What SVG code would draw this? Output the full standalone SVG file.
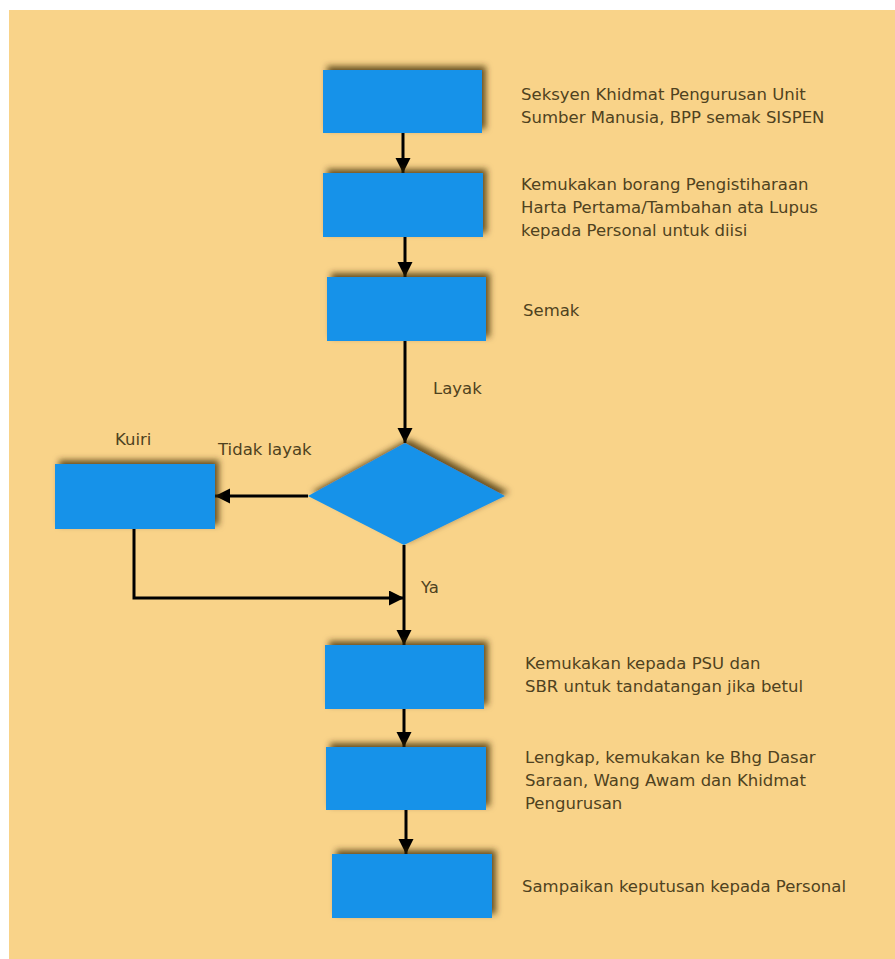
<svg xmlns="http://www.w3.org/2000/svg" width="895" height="959" viewBox="0 0 895 959">
<defs>
<style>
.box{fill:#1592E9;filter:url(#sh)}
.lbl{font-family:"DejaVu Sans","Liberation Sans",sans-serif;font-size:16.5px;fill:#4f4220}
.cn{stroke:#000;stroke-width:3;fill:none}
</style>
<filter id="sh" x="-20%" y="-30%" width="140%" height="160%">
<feDropShadow dx="4" dy="-4" stdDeviation="3" flood-color="#3b2a00" flood-opacity="0.75"/>
</filter>
<marker id="ah" markerUnits="userSpaceOnUse" markerWidth="18" markerHeight="18" refX="15" refY="7.5" orient="auto">
<path d="M0,0 L15,7.5 L0,15 Z" fill="#000"/>
</marker>
</defs>
<rect x="0" y="0" width="895" height="959" fill="#fff"/>
<rect x="9" y="10" width="886" height="949" fill="#F9D389"/>
<g id="connectors">
<path class="cn" d="M403,133 V173" marker-end="url(#ah)"/>
<path class="cn" d="M405,237 V277" marker-end="url(#ah)"/>
<path class="cn" d="M405,341 V443" marker-end="url(#ah)"/>
<path class="cn" d="M308,496 H215" marker-end="url(#ah)"/>
<path class="cn" d="M134,529 V598 H404" marker-end="url(#ah)"/>
<path class="cn" d="M404,545 V645" marker-end="url(#ah)"/>
<path class="cn" d="M404,709 V747" marker-end="url(#ah)"/>
<path class="cn" d="M406,810 V854" marker-end="url(#ah)"/>
</g>
<g id="n1"><rect class="box" x="323" y="70" width="159" height="63"/>
<text class="lbl" x="521" y="100">Seksyen Khidmat Pengurusan Unit</text>
<text class="lbl" x="521" y="123">Sumber Manusia, BPP semak SISPEN</text></g>
<g id="n2"><rect class="box" x="323" y="173" width="160" height="64"/>
<text class="lbl" x="521" y="190">Kemukakan borang Pengistiharaan</text>
<text class="lbl" x="521" y="213">Harta Pertama/Tambahan ata Lupus</text>
<text class="lbl" x="521" y="236">kepada Personal untuk diisi</text></g>
<g id="n3"><rect class="box" x="327" y="277" width="159" height="64"/>
<text class="lbl" x="523" y="316">Semak</text></g>
<g id="d1"><path class="box" d="M405,443 L505,496 L404,545 L308,496 Z"/></g>
<g id="n4"><rect class="box" x="55" y="464" width="160" height="65"/>
<text class="lbl" x="115" y="445">Kuiri</text></g>
<g id="n5"><rect class="box" x="325" y="645" width="159" height="64"/>
<text class="lbl" x="525" y="669">Kemukakan kepada PSU dan</text>
<text class="lbl" x="525" y="692">SBR untuk tandatangan jika betul</text></g>
<g id="n6"><rect class="box" x="326" y="747" width="160" height="63"/>
<text class="lbl" x="525" y="763">Lengkap, kemukakan ke Bhg Dasar</text>
<text class="lbl" x="525" y="786">Saraan, Wang Awam dan Khidmat</text>
<text class="lbl" x="525" y="809">Pengurusan</text></g>
<g id="n7"><rect class="box" x="332" y="854" width="160" height="64"/>
<text class="lbl" x="522" y="892">Sampaikan keputusan kepada Personal</text></g>
<g id="edge-labels">
<text class="lbl" x="433" y="394">Layak</text>
<text class="lbl" x="218" y="455">Tidak layak</text>
<text class="lbl" x="421" y="593">Ya</text>
</g>
</svg>
